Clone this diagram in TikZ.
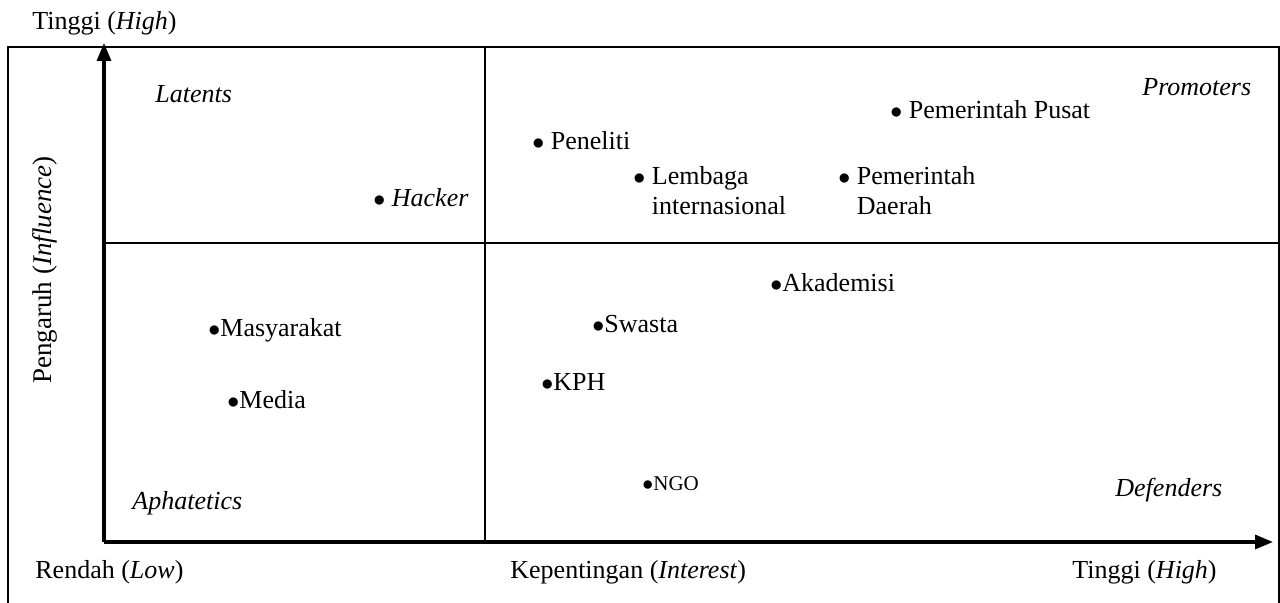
\documentclass[tikz,border=0pt]{standalone}
\usepackage{fontspec}
\setmainfont{Liberation Serif}
\usetikzlibrary{arrows.meta}

\newcommand{\dotmark}{$\bullet$}

\tikzset{
  lbl/.style={anchor=base west, inner sep=0pt, font=\fontsize{13}{15}\selectfont},
  qlbl/.style={lbl, font=\fontsize{13}{15}\selectfont\itshape},
  axis/.style={line width=1.6pt, -{Triangle[length=9pt,width=7pt]}},
  quad/.style={line width=1pt},
  frame/.style={line width=0.8pt}
}

\begin{document}
\begin{tikzpicture}[x=0.5pt,y=-0.5pt]
\useasboundingbox (0,0) rectangle (1280,603);

% outer frame (open at the bottom)
\draw[frame] (8,603) -- (8,47) -- (1279,47) -- (1279,603);

% axes
\coordinate (o) at (104,542);
\coordinate (ytop) at (104,43);
\coordinate (xend) at (1273,542);
\draw[axis] (o) -- (ytop);
\draw[axis] (o) -- (xend);

% quadrant lines
\coordinate (vtop) at (485,47);
\coordinate (vbot) at (485,542);
\coordinate (hl) at (104,243);
\coordinate (hr) at (1279,243);
\draw[quad] (vtop) -- (vbot);
\draw[quad] (hl) -- (hr);

% axis labels
\node[lbl] (yhigh) at (32,30) {Tinggi (\textit{High})};
\node[font=\fontsize{13.5}{15}\selectfont, rotate=90, inner sep=0pt] (ylab) at (45,270) {Pengaruh (\textit{Influence})};
\node[lbl] (xlow) at (35,579) {Rendah (\textit{Low})};
\node[lbl] (xlab) at (510,579) {Kepentingan (\textit{Interest})};
\node[lbl] (xhigh) at (1072,579) {Tinggi (\textit{High})};

% quadrant names
\node[qlbl] (latents) at (155,103) {Latents};
\node[qlbl] (promoters) at (1142,96) {Promoters};
\node[qlbl] (aphatetics) at (132,510) {Aphatetics};
\node[qlbl] (defenders) at (1115,497) {Defenders};

% stakeholders
\node[lbl] (peneliti) at (532,150) {\dotmark\ Peneliti};
\node[lbl] (pusat) at (890,119) {\dotmark\ Pemerintah Pusat};
\node[lbl, anchor=north west, align=left] (lembaga) at (633,166) {\dotmark\ Lembaga\\\phantom{\dotmark\ }internasional};
\node[lbl, anchor=north west, align=left] (daerah) at (838,166) {\dotmark\ Pemerintah\\\phantom{\dotmark\ }Daerah};
\node[lbl] (hacker) at (373,207) {\dotmark\ \textit{Hacker}};
\node[lbl] (akademisi) at (770,292) {\dotmark Akademisi};
\node[lbl] (masyarakat) at (208,337) {\dotmark Masyarakat};
\node[lbl] (swasta) at (592,333) {\dotmark Swasta};
\node[lbl] (kph) at (541,391) {\dotmark KPH};
\node[lbl] (media) at (227,409) {\dotmark Media};
\node[lbl, font=\fontsize{10.5}{12}\selectfont] (ngo) at (642,491) {\dotmark NGO};
\end{tikzpicture}
\end{document}
